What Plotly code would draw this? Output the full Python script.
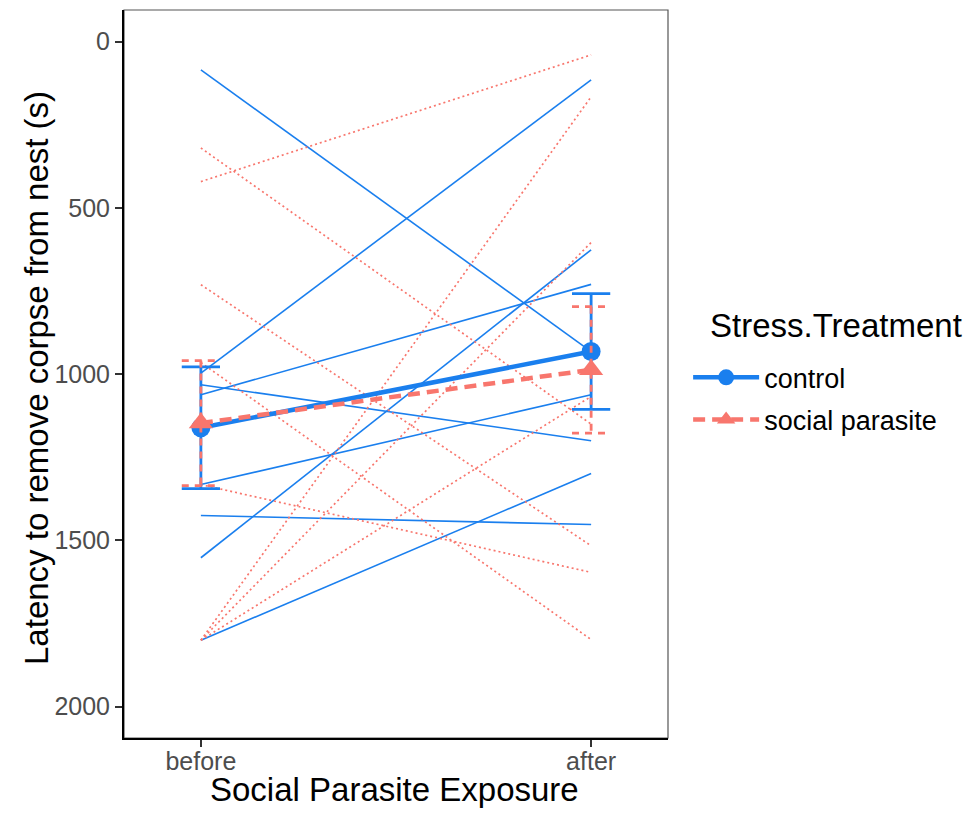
import plotly.graph_objects as go

# ---------------- data ----------------
exposure_labels = ["before", "after"]
exposure_pos = [1, 2]

control_before = [85, 997, 1032, 1062, 1332, 1552, 1425, 1800]
control_after = [932, 115, 1200, 730, 1062, 626, 1452, 1299]

parasite_before = [320, 421, 731, 965, 1332, 1800, 1800, 1800]
parasite_after = [1150, 40, 1516, 1798, 1596, 166, 604, 1067]

control_mean = [1161, 932]
control_err = [183, 174]
parasite_mean = [1147, 987]
parasite_err = [188, 190]

y_ticks = [0, 500, 1000, 1500, 2000]

# ---------------- styles ----------------
BLUE = "#1A7FEE"
RED = "#F8766D"
FONT = "Liberation Sans, Arial, sans-serif"
CAP = 0.049  # half cap width in x units

fig = go.Figure()

for b, a in zip(control_before, control_after):
    fig.add_trace(go.Scatter(x=exposure_pos, y=[b, a], mode="lines",
                             line=dict(color=BLUE, width=1.6),
                             showlegend=False, hoverinfo="skip"))
for b, a in zip(parasite_before, parasite_after):
    fig.add_trace(go.Scatter(x=exposure_pos, y=[b, a], mode="lines",
                             line=dict(color=RED, width=1.7, dash="2px,3px"),
                             showlegend=False, hoverinfo="skip"))


def add_errorbars(means, errs, color, dash):
    xs, ys = [], []
    for x, m, e in zip(exposure_pos, means, errs):
        lo, hi = m - e, m + e
        xs += [x, x, None, x - CAP, x + CAP, None, x - CAP, x + CAP, None]
        ys += [lo, hi, None, lo, lo, None, hi, hi, None]
    fig.add_trace(go.Scatter(x=xs, y=ys, mode="lines",
                             line=dict(color=color, width=2.8, dash=dash),
                             showlegend=False, hoverinfo="skip"))


add_errorbars(control_mean, control_err, BLUE, "solid")
fig.add_trace(go.Scatter(x=exposure_pos, y=control_mean, mode="lines+markers",
                         name="control", legendgroup="c",
                         line=dict(color=BLUE, width=4.5),
                         marker=dict(symbol="circle", size=19, color=BLUE)))

add_errorbars(parasite_mean, parasite_err, RED, "7px,6px")
fig.add_trace(go.Scatter(x=exposure_pos, y=parasite_mean, mode="lines+markers",
                         name="social parasite", legendgroup="p",
                         line=dict(color=RED, width=4.5, dash="12px,7px"),
                         marker=dict(symbol="triangle-up", size=21, color=RED)))

fig.update_layout(
    width=960, height=800,
    margin=dict(l=116, r=300, t=2, b=70, autoexpand=False),
    paper_bgcolor="white", plot_bgcolor="white",
    font=dict(family=FONT, color="black"),
    showlegend=True,
    legend=dict(
        font=dict(size=27, color="black"),
        x=1.037, xanchor="left", y=0.5285, yanchor="top",
        itemwidth=66,
        tracegroupgap=4, traceorder="grouped",
        bgcolor="rgba(0,0,0,0)",
    ),
    xaxis=dict(
        range=[0.803, 2.197], tickvals=exposure_pos, ticktext=exposure_labels,
        showgrid=False, zeroline=False, automargin=False,
        showline=True, linecolor="black", linewidth=2,
        ticks="outside", ticklen=7, tickwidth=1.5, tickcolor="#333333",
        ticklabelstandoff=-7,
        tickfont=dict(size=25, color="#4D4D4D"),
    ),
    yaxis=dict(
        range=[2094, -95], tickvals=y_ticks,
        showgrid=False, zeroline=False, automargin=False,
        showline=True, linecolor="black", linewidth=2,
        ticks="outside", ticklen=7, tickwidth=1.5, tickcolor="#333333",
        tickfont=dict(size=25, color="#4D4D4D"),
    ),
    annotations=[
        dict(text="Social Parasite Exposure", xref="paper", yref="paper",
             x=0.497, y=-0.0712, xanchor="center", yanchor="middle",
             showarrow=False, font=dict(size=33, color="black")),
        dict(text="Latency to remove corpse from nest (s)", xref="paper", yref="paper",
             x=-0.1618, y=0.4945, xanchor="center", yanchor="middle", textangle=-90,
             showarrow=False, font=dict(size=33, color="black")),
        dict(text="Stress.Treatment", xref="paper", yref="paper",
             x=1.0735, y=0.566, xanchor="left", yanchor="middle",
             showarrow=False, font=dict(size=33, color="black")),
    ],
    shapes=[dict(type="rect", xref="paper", yref="paper", x0=0, x1=1, y0=0, y1=1,
                 line=dict(color="#555555", width=1.2), layer="below")],
)

fig.write_html("out.html")
